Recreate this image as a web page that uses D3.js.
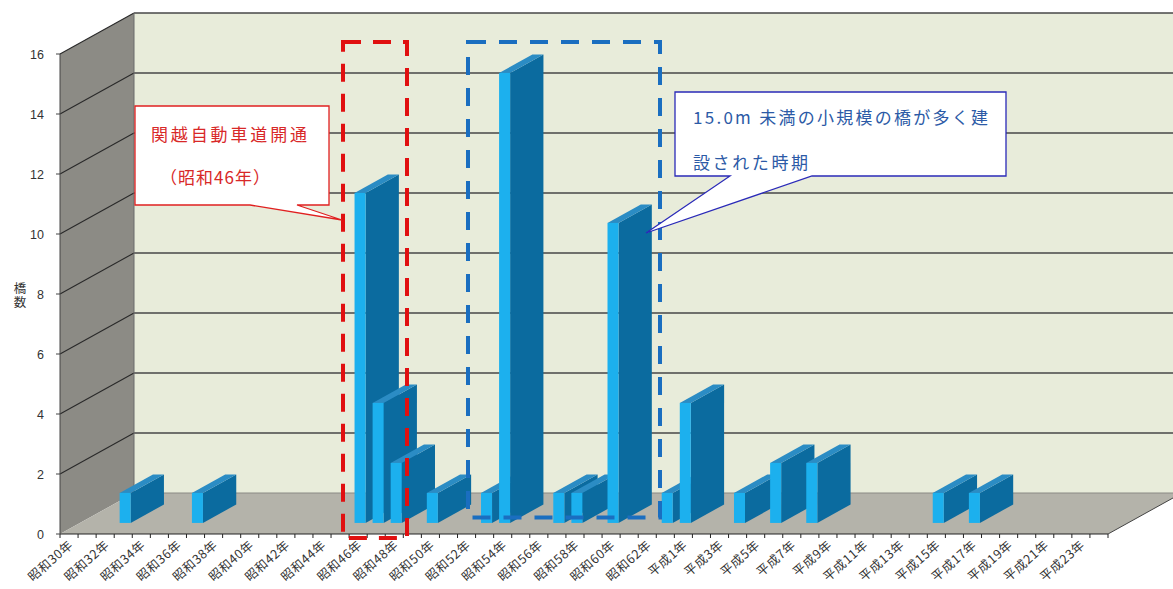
<!DOCTYPE html>
<html>
<head>
<meta charset="utf-8">
<script src="https://cdn.jsdelivr.net/npm/d3@7/dist/d3.min.js"></script>
<style>
  html, body { margin: 0; padding: 0; background: #fff; }
  svg { display: block; }
</style>
</head>
<body>
<svg id="chart" width="1173" height="589"></svg>
<script>
// Construction year of bridges (one category per year, 昭和30年 .. 平成24年)
const categories = [
  "昭和30年","昭和31年","昭和32年","昭和33年","昭和34年","昭和35年","昭和36年","昭和37年",
  "昭和38年","昭和39年","昭和40年","昭和41年","昭和42年","昭和43年","昭和44年","昭和45年",
  "昭和46年","昭和47年","昭和48年","昭和49年","昭和50年","昭和51年","昭和52年","昭和53年",
  "昭和54年","昭和55年","昭和56年","昭和57年","昭和58年","昭和59年","昭和60年","昭和61年",
  "昭和62年","昭和63年","平成1年","平成2年","平成3年","平成4年","平成5年","平成6年",
  "平成7年","平成8年","平成9年","平成10年","平成11年","平成12年","平成13年","平成14年",
  "平成15年","平成16年","平成17年","平成18年","平成19年","平成20年","平成21年","平成22年",
  "平成23年","平成24年"
];

// Number of bridges built in each year
const bridgeCounts = [
  0, 0, 1, 0, 0, 0, 1, 0,
  0, 0, 0, 0, 0, 0, 0, 11,
  4, 2, 0, 1, 0, 0, 1, 15,
  0, 0, 1, 1, 0, 10, 0, 0,
  1, 4, 0, 0, 1, 0, 2, 0,
  2, 0, 0, 0, 0, 0, 0, 1,
  0, 1, 0, 0, 0, 0, 0, 0,
  0, 0
];

// Value axis ticks
const yTicks = [0, 2, 4, 6, 8, 10, 12, 14, 16];
const yMax = 16;

// Category labels shown on the axis (every other year)
const shownLabels = categories.filter((d, i) => i % 2 === 0);

// Axis title and callout texts
const yTitle = "橋数";
const noteKanetsu = ["関越自動車道開通", "（昭和46年）"];
const noteSmall = ["15.0m 未満の小規模の橋が多く建", "設された時期"];

// ---------------------------------------------------------------
const svg = d3.select("#chart");

// Oblique 3D frame: front plane plus a receding depth vector
const X0 = 60, X1 = 1108;
const DX = 74, DY = -41;          // full floor depth
const BAR_FRONT = 0.27, BAR_BACK = 0.72; // bar depth as fraction of floor depth

const y = d3.scaleLinear().domain([0, yMax]).range([534, 54]);
const xCat = d3.scaleBand().domain(categories).range([X0, X1]).padding(0);
const xBar = d3.scaleBand().domain(categories).range([X0, X1])
  .paddingInner(0.39).paddingOuter(0.195);

const pts = a => a.map(p => p.join(",")).join(" ");

const COL = {
  back: "#e8ecda",
  side: "#8c8b85",
  floor: "#b4b3aa",
  grid: "#474747",
  edge: "#6a6a6a",
  barFront: "#1cb0ee",
  barSide: "#0b6b9f",
  barTop: "#2b8cc4"
};

const frame = svg.append("g");
const y0 = y(0), yT = y(yMax);

// Back wall (runs off the right edge)
frame.append("polygon")
  .attr("points", pts([[X0 + DX, yT + DY], [X1 + DX, yT + DY], [X1 + DX, y0 + DY], [X0 + DX, y0 + DY]]))
  .attr("fill", COL.back);

// Left side wall
frame.append("polygon")
  .attr("points", pts([[X0, y0], [X0, yT], [X0 + DX, yT + DY], [X0 + DX, y0 + DY]]))
  .attr("fill", COL.side);

// Floor
frame.append("polygon")
  .attr("points", pts([[X0, y0], [X1, y0], [X1 + DX, y0 + DY], [X0 + DX, y0 + DY]]))
  .attr("fill", COL.floor);

// Gridlines on back and side walls
const gridVals = yTicks.filter(v => v > 0);
frame.selectAll("line.gb").data(gridVals).join("line")
  .attr("x1", X0 + DX).attr("x2", X1 + DX)
  .attr("y1", d => y(d) + DY).attr("y2", d => y(d) + DY)
  .attr("stroke", COL.grid).attr("stroke-width", 1.3);
frame.selectAll("line.gs").data(gridVals).join("line")
  .attr("x1", X0).attr("y1", d => y(d))
  .attr("x2", X0 + DX).attr("y2", d => y(d) + DY)
  .attr("stroke", "#2a2a2a").attr("stroke-width", 1.1);

// Wall edges
frame.append("line").attr("x1", X0 + DX).attr("x2", X0 + DX)
  .attr("y1", yT + DY).attr("y2", y0 + DY).attr("stroke", COL.edge).attr("stroke-width", 1);
frame.append("line").attr("x1", X0 + DX).attr("x2", X1 + DX)
  .attr("y1", y0 + DY).attr("y2", y0 + DY).attr("stroke", "#8a8a84").attr("stroke-width", 1);
frame.append("line").attr("x1", X1).attr("y1", y0)
  .attr("x2", X1 + DX).attr("y2", y0 + DY).attr("stroke", "#444").attr("stroke-width", 1);

// ---------------------------------------------------------------
// 3D columns, drawn left to right so later ones cover earlier side faces
const bars = svg.append("g");
const fdx = DX * BAR_FRONT, fdy = DY * BAR_FRONT;
const bdx = DX * BAR_BACK, bdy = DY * BAR_BACK;
const w = xBar.bandwidth();

categories.forEach((c, i) => {
  const v = bridgeCounts[i];
  if (!v) return;
  const xl = xBar(c) + fdx, xr = xl + w;
  const yb = y(0) + fdy, yt = y(v) + fdy;
  const sx = bdx - fdx, sy = bdy - fdy;
  const g = bars.append("g");
  // right side face
  g.append("polygon")
    .attr("points", pts([[xr, yb], [xr, yt], [xr + sx, yt + sy], [xr + sx, yb + sy]]))
    .attr("fill", COL.barSide);
  // top face
  g.append("polygon")
    .attr("points", pts([[xl, yt], [xr, yt], [xr + sx, yt + sy], [xl + sx, yt + sy]]))
    .attr("fill", COL.barTop);
  // front face
  g.append("rect")
    .attr("x", xl).attr("y", yt).attr("width", w).attr("height", yb - yt)
    .attr("fill", COL.barFront);
});

// ---------------------------------------------------------------
// Axes
const axes = svg.append("g");
axes.append("line").attr("x1", X0).attr("x2", X1).attr("y1", y0).attr("y2", y0)
  .attr("stroke", "#222").attr("stroke-width", 1.2);
axes.append("line").attr("x1", X0).attr("x2", X0).attr("y1", y0).attr("y2", yT)
  .attr("stroke", "#444").attr("stroke-width", 1);

// category ticks at every year boundary
const tickXs = categories.map(c => xCat(c)).concat([X1]);
axes.selectAll("line.xt").data(tickXs).join("line")
  .attr("x1", d => d).attr("x2", d => d).attr("y1", y0).attr("y2", y0 + 4)
  .attr("stroke", "#222").attr("stroke-width", 1);

// value ticks and labels
axes.selectAll("line.yt").data(yTicks).join("line")
  .attr("x1", X0 - 4).attr("x2", X0).attr("y1", d => y(d)).attr("y2", d => y(d))
  .attr("stroke", "#444");
axes.selectAll("text.yl").data(yTicks).join("text")
  .attr("x", X0 - 16).attr("y", d => y(d)).attr("dy", "0.36em")
  .attr("text-anchor", "end")
  .attr("font-family", "Liberation Sans, Arial, sans-serif")
  .attr("font-size", 12.5).attr("fill", "#333")
  .text(d => d);

// axis title, set vertically
axes.append("text")
  .attr("x", 20).attr("y", 282)
  .attr("writing-mode", "tb")
  .attr("font-family", "Noto Sans CJK JP, sans-serif").attr("font-size", 12.5)
  .attr("letter-spacing", 1).attr("fill", "#333")
  .text(yTitle);

// category labels, rotated
axes.selectAll("text.xl").data(shownLabels).join("text")
  .attr("transform", d => `translate(${xCat(d) + xCat.bandwidth() / 2 + 2},${y0 + 9}) rotate(-41)`)
  .attr("text-anchor", "end").attr("dy", "0.35em")
  .attr("font-family", "Noto Sans CJK JP, sans-serif")
  .attr("font-size", 12.5).attr("letter-spacing", 0.6).attr("fill", "#333")
  .text(d => d);

// ---------------------------------------------------------------
// Highlight frames and callouts
const notes = svg.append("g");

notes.append("rect")
  .attr("x", 343).attr("y", y(16.4)).attr("width", 64).attr("height", y(-0.13) - y(16.4))
  .attr("fill", "none").attr("stroke", "#e01010").attr("stroke-width", 4)
  .attr("stroke-dasharray", "18,12");

notes.append("rect")
  .attr("x", 468).attr("y", y(16.4)).attr("width", 192).attr("height", y(0.55) - y(16.4))
  .attr("fill", "none").attr("stroke", "#1a6ec0").attr("stroke-width", 4)
  .attr("stroke-dasharray", "18,13");

const noteFont = "Noto Sans CJK JP, sans-serif";

// red callout
notes.append("path")
  .attr("d", "M135,106 H329 V205 H297 L342,220 L250,205 H135 Z")
  .attr("fill", "#fff").attr("stroke", "#e02020").attr("stroke-width", 1.3);
notes.append("text").attr("x", 151).attr("y", 141)
  .attr("font-family", noteFont).attr("font-size", 17)
  .attr("textLength", 156).attr("lengthAdjust", "spacing")
  .attr("fill", "#d82828").text(noteKanetsu[0]);
notes.append("text").attr("x", 160).attr("y", 184)
  .attr("font-family", noteFont).attr("font-size", 17)
  .attr("textLength", 110).attr("lengthAdjust", "spacing")
  .attr("fill", "#d82828").text(noteKanetsu[1]);

// blue callout
notes.append("path")
  .attr("d", "M675,92 H1006 V176 H812 L646,233 L730,176 H675 Z")
  .attr("fill", "#fff").attr("stroke", "#2a2ab8").attr("stroke-width", 1.3);
notes.append("text").attr("x", 693).attr("y", 124)
  .attr("font-family", noteFont).attr("font-size", 17)
  .attr("textLength", 295).attr("lengthAdjust", "spacing")
  .attr("fill", "#2c5aa6").text(noteSmall[0]);
notes.append("text").attr("x", 693).attr("y", 169)
  .attr("font-family", noteFont).attr("font-size", 17)
  .attr("textLength", 115).attr("lengthAdjust", "spacing")
  .attr("fill", "#2c5aa6").text(noteSmall[1]);
</script>
</body>
</html>
